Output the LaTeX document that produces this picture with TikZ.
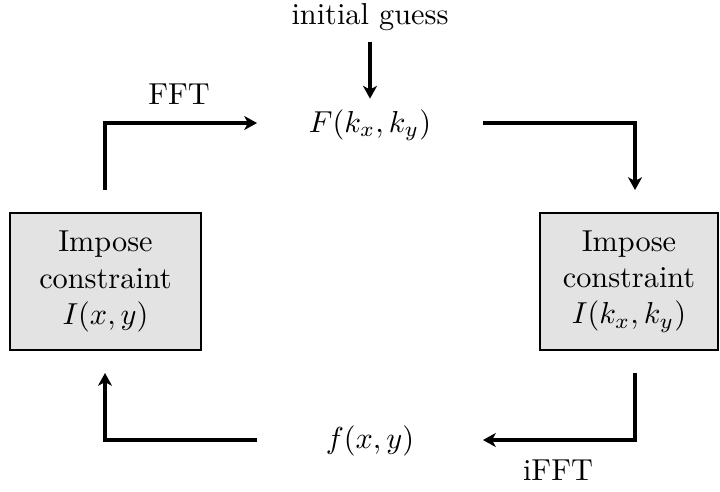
\documentclass[tikz,border=0pt]{standalone}
\usetikzlibrary{arrows.meta}
\begin{document}
\begin{tikzpicture}[x=0.33pt,y=-0.33pt,
  arr/.style={line width=1.1pt,-{Stealth[length=4.2pt,width=4.6pt,inset=1.2pt]}},
  cbox/.style={draw,line width=0.8pt,fill=black!11,align=center,inner sep=0pt},
  lbl/.style={inner sep=3.33pt}]
\useasboundingbox (0,0) rectangle (720,491);
\node[lbl] (ig) at (370,17.5) {initial guess};
\node[lbl] (F) at (370,125) {$F(k_x,k_y)$};
\node[lbl] (f) at (370,441) {$f(x,y)$};
\node[cbox,minimum width=63pt,minimum height=45.2pt] (L) at (105.5,281.5) {Impose\\constraint\\$I(x,y)$};
\node[cbox,minimum width=58.7pt,minimum height=45.2pt] (R) at (629,281.5) {Impose\\constraint\\$I(k_x,k_y)$};
\node[lbl] (fft) at (179,94) {FFT};
\node[lbl] (ifft) at (558,470) {iFFT};
\coordinate (a1) at (105,190);
\coordinate (a2) at (257,123);
\coordinate (b1) at (483,123);
\coordinate (b2) at (635,190);
\coordinate (c1) at (635,373);
\coordinate (c2) at (483,440);
\coordinate (d1) at (257,440);
\coordinate (d2) at (105,373);
\draw[arr] (ig.south) -- (F.north);
\draw[arr] (a1) |- (a2);
\draw[arr] (b1) -| (b2);
\draw[arr] (c1) |- (c2);
\draw[arr] (d1) -| (d2);
\end{tikzpicture}
\end{document}
